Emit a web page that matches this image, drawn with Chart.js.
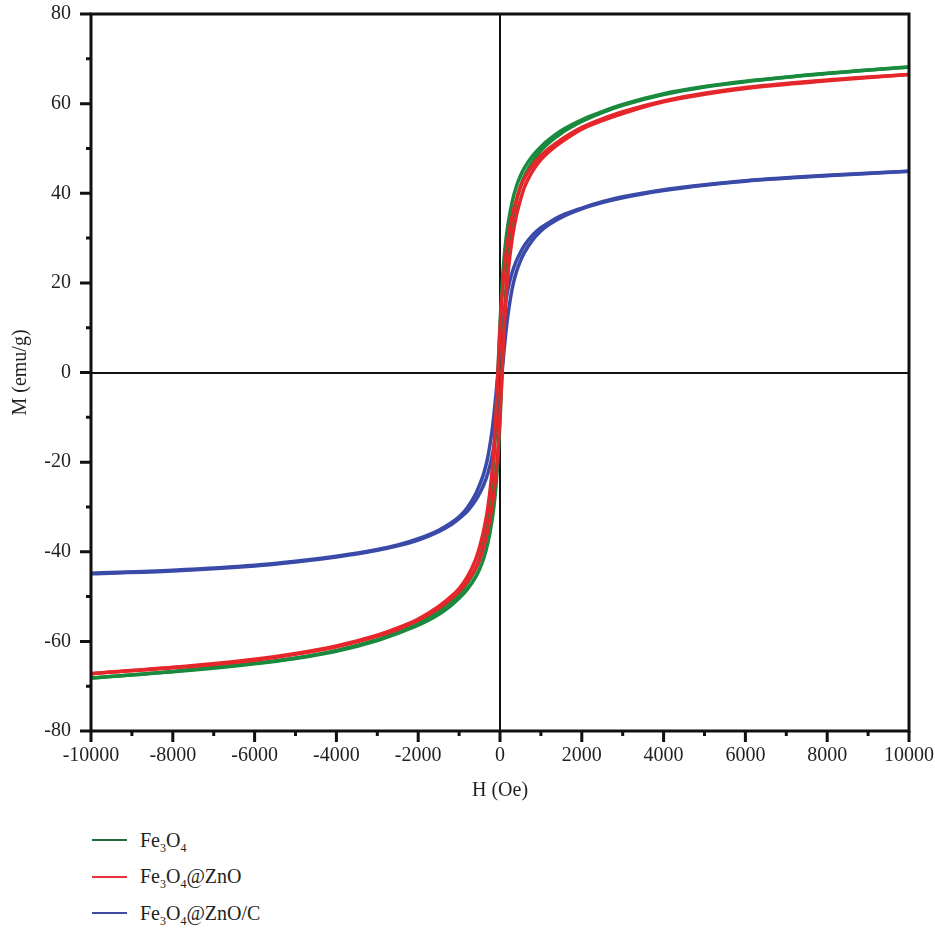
<!DOCTYPE html>
<html><head><meta charset="utf-8">
<script src="https://cdn.jsdelivr.net/npm/chart.js@4"></script>
<style>
body{margin:0;background:#fff;font-family:"Liberation Serif","Times New Roman","DejaVu Serif",serif;}
#wrap{position:relative;width:935px;height:928px;overflow:hidden;}
#c{position:absolute;left:0;top:0;}
#legend{position:absolute;left:92px;top:822px;font-size:20px;color:#231f20;}
.item{display:flex;align-items:center;height:36.5px;}
.sw{width:35px;height:2px;margin-right:13px;}
sub{font-size:12px;vertical-align:-5px;line-height:0;}
</style></head>
<body>
<div id="wrap">
<canvas id="c" width="935" height="812"></canvas>
<div id="legend">
 <div class="item"><span class="sw" style="background:#1c6e3a"></span><span>Fe<sub>3</sub>O<sub>4</sub></span></div>
 <div class="item"><span class="sw" style="background:#e8333a"></span><span>Fe<sub>3</sub>O<sub>4</sub>@ZnO</span></div>
 <div class="item"><span class="sw" style="background:#3d4aa6"></span><span>Fe<sub>3</sub>O<sub>4</sub>@ZnO/C</span></div>
</div>
</div>
<script>
// Field H (Oe)
const fieldH = [-10000,-8000,-6000,-5000,-4000,-3000,-2500,-2000,-1500,-1200,-1000,-800,-600,-500,-400,-300,-200,-150,-100,-50,0,50,100,150,200,300,400,500,600,800,1000,1200,1500,2000,2500,3000,4000,5000,6000,8000,10000];
// Fe3O4: descending (upper) and ascending (lower) branches, emu/g
const fe3o4Upper = [-68.2,-66.7,-64.9,-63.7,-62.0,-59.6,-58.0,-56.0,-53.4,-51.3,-49.5,-47.1,-43.9,-41.5,-38.2,-33.3,-25.5,-19.5,-11,0,11,19.5,25.5,30,33.3,38.2,41.5,43.9,45.7,48.4,50.4,52.0,54.0,56.4,58.2,59.8,62.2,63.8,65.0,66.8,68.2];
const fe3o4Lower = [-68.2,-66.8,-65.0,-63.8,-62.2,-59.8,-58.2,-56.4,-54.0,-52.0,-50.4,-48.4,-45.7,-43.9,-41.5,-38.2,-33.3,-30,-25.5,-19.5,-11,0,11,19.5,25.5,33.3,38.2,41.5,43.9,47.1,49.5,51.3,53.4,56.0,58.0,59.6,62.0,63.7,64.9,66.7,68.2];
// Fe3O4@ZnO
const znoUpper = [-67.2,-65.8,-64.0,-62.7,-61.0,-58.6,-57.0,-55.0,-52.2,-50.0,-48.2,-45.6,-41.8,-39.0,-35.3,-30.3,-22.7,-17.2,-9.6,0,9.5,17,22.5,26.8,30,35,38.5,41.4,43.4,46.3,48.4,50.0,52.0,54.7,56.6,58.2,60.6,62.3,63.6,65.3,66.5];
const znoLower = [-67.2,-65.9,-64.2,-62.9,-61.2,-58.8,-57.3,-55.3,-52.6,-50.5,-48.9,-46.7,-43.8,-41.8,-38.9,-35.3,-30.3,-27,-22.7,-17.2,-9.6,0,9.5,17,22.5,30,35,38.5,41.4,45.0,47.5,49.3,51.4,54.3,56.2,57.8,60.4,62.1,63.4,65.1,66.5];
// Fe3O4@ZnO/C
const zncUpper = [-44.8,-44.1,-43.0,-42.1,-41.0,-39.5,-38.5,-37.1,-35.2,-33.6,-32.2,-30.2,-27.2,-25.1,-22.6,-19.0,-13.4,-9.6,-5,0,5,9.5,13.2,16.3,18.8,22.4,24.9,26.8,28.4,30.7,32.3,33.5,35.0,36.7,38.1,39.2,40.8,41.9,42.8,44.0,44.9];
const zncLower = [-44.9,-44.3,-43.2,-42.3,-41.2,-39.7,-38.7,-37.4,-35.5,-34.0,-32.6,-31.0,-28.6,-27.0,-25.1,-22.6,-19.0,-16.5,-13.4,-9.5,-5,0,5,9.5,13.2,18.8,22.4,24.9,26.8,29.6,31.6,33.0,34.6,36.5,37.9,39.0,40.6,41.8,42.7,43.9,44.9];

const xTicks = [-10000,-8000,-6000,-4000,-2000,0,2000,4000,6000,8000,10000];
const yTicks = [-80,-60,-40,-20,0,20,40,60,80];

const pts = arr => fieldH.map((h,i)=>({x:h,y:arr[i]}));
const GREEN='#1a8a3e', RED='#e5262b', BLUE='#3a4aa8';
const ds = (label,arr,color)=>({label,data:pts(arr),borderColor:color,backgroundColor:color,borderWidth:3.5,pointRadius:0,showLine:true,fill:false,cubicInterpolationMode:'monotone'});

const TXT='#231f20';
const FONT='"Liberation Serif", "Times New Roman", "DejaVu Serif", serif';
const framePlugin = {
  id:'frame',
  beforeDatasetsDraw(chart){
    const {ctx, chartArea:a, scales:{x,y}} = chart;
    ctx.save();
    ctx.strokeStyle='#111'; ctx.lineWidth=2;
    const x0=Math.round(x.getPixelForValue(0)), y0=Math.round(y.getPixelForValue(0));
    ctx.beginPath();
    ctx.moveTo(x0,a.top); ctx.lineTo(x0,a.bottom);
    ctx.moveTo(a.left,y0); ctx.lineTo(a.right,y0);
    ctx.stroke();
    ctx.restore();
  },
  afterDatasetsDraw(chart){
    const {ctx, chartArea:a, scales:{x,y}} = chart;
    ctx.save();
    ctx.strokeStyle='#111'; ctx.lineWidth=3; ctx.lineCap='butt';
    ctx.beginPath();
    ctx.rect(a.left,a.top,a.right-a.left,a.bottom-a.top);
    ctx.stroke();
    ctx.beginPath();
    for(let v=-10000; v<=10000; v+=1000){
      const px=x.getPixelForValue(v);
      const len = (v%2000===0)?11:5;
      ctx.moveTo(px,a.bottom); ctx.lineTo(px,a.bottom+len);
    }
    for(let v=-80; v<=80; v+=10){
      const py=y.getPixelForValue(v);
      const len = (v%20===0)?11:5;
      ctx.moveTo(a.left,py); ctx.lineTo(a.left-len,py);
    }
    ctx.stroke();
    ctx.restore();
  }
};

new Chart(document.getElementById('c'),{
  type:'scatter',
  data:{datasets:[
    ds('Fe3O4@ZnO',znoUpper,RED), ds('Fe3O4@ZnO',znoLower,RED),
    ds('Fe3O4',fe3o4Upper,GREEN), ds('Fe3O4',fe3o4Lower,GREEN),
    ds('Fe3O4@ZnO/C',zncUpper,BLUE), ds('Fe3O4@ZnO/C',zncLower,BLUE)
  ]},
  options:{
    responsive:false, animation:false,
    layout:{padding:{top:14,right:26,left:0,bottom:0}},
    plugins:{legend:{display:false},tooltip:{enabled:false}},
    scales:{
      x:{type:'linear',min:-10000,max:10000,
        afterBuildTicks(s){ s.ticks = xTicks.map(v=>({value:v})); },
        afterFit(s){ s.height=812-731; s.paddingLeft=0; s.paddingRight=0; },
        grid:{display:false,drawTicks:false},
        border:{display:false},
        ticks:{padding:13,color:TXT,font:{family:FONT,size:20},maxRotation:0,autoSkip:false,callback:v=>String(v)},
        title:{display:true,text:'H (Oe)',color:TXT,font:{family:FONT,size:20},padding:{top:0,bottom:9}}
      },
      y:{type:'linear',min:-80,max:80,
        afterBuildTicks(s){ s.ticks = yTicks.map(v=>({value:v})); },
        afterFit(s){ s.width=91; s.paddingTop=0; s.paddingBottom=0; },
        grid:{display:false,drawTicks:false},
        border:{display:false},
        ticks:{padding:20,color:TXT,font:{family:FONT,size:20},autoSkip:false,callback:v=>String(v)},
        title:{display:true,text:'M (emu/g)',color:TXT,font:{family:FONT,size:20},padding:{top:9,bottom:0}}
      }
    }
  },
  plugins:[framePlugin]
});
</script>
</body></html>
